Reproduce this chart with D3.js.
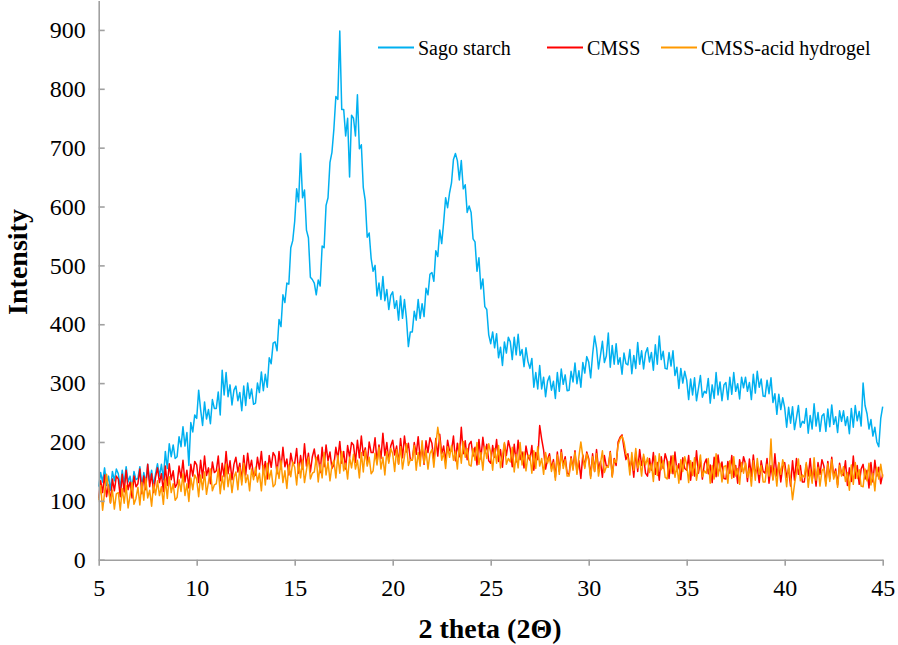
<!DOCTYPE html>
<html>
<head>
<meta charset="utf-8">
<script src="https://cdn.jsdelivr.net/npm/d3@7"></script>
<style>
  html, body { margin: 0; padding: 0; background: #fff; }
  svg { display: block; }
  text { font-family: "Liberation Serif", "Times New Roman", serif; fill: #000; }
</style>
</head>
<body>
<svg id="chart" width="898" height="645"></svg>
<script>
// ---- data (2θ grid 5.0 .. 45.0, step 0.1) ----
const thetaStart = 5.0;
const thetaStep = 0.1;

const sagoStarch = [
  124,148,132,156,126,142,118,150,134,154,
  146,122,152,128,158,132,142,120,150,136,
  138,158,124,148,130,162,134,152,126,146,
  163,142,162,136,184,155,197,175,195,172,
  175,209,192,226,193,216,160,233,217,246,
  240,288,255,228,268,239,255,231,272,257,
  257,285,246,322,280,318,277,297,263,288,
  295,270,284,253,295,262,300,274,290,264,
  266,300,284,319,287,315,293,343,333,368,
  370,355,408,396,450,437,470,468,530,542,
  575,630,608,690,615,628,560,547,480,476,
  470,450,475,465,533,530,602,615,675,692,
  732,787,782,898,765,765,720,750,650,755,
  750,720,790,698,705,632,610,548,555,512,
  490,500,448,470,442,481,440,459,425,449,
  455,427,440,407,448,410,442,410,362,387,
  387,422,407,442,410,435,413,461,450,485,
  488,473,525,515,560,537,573,615,598,623,
  640,680,690,678,645,678,630,637,590,601,
  590,545,540,490,513,460,477,430,425,382,
  367,387,360,384,343,361,330,370,351,378,
  370,340,378,348,383,347,357,328,360,337,
  325,342,293,318,290,330,290,310,277,303,
  312,288,303,274,318,286,324,298,314,287,
  288,320,302,334,299,321,293,335,317,345,
  336,309,349,380,360,324,347,371,335,346,
  385,327,364,332,367,332,343,315,351,333,
  331,357,316,347,325,369,332,355,324,351,
  360,336,352,322,365,332,380,340,354,325,
  324,352,329,355,313,327,291,325,300,320,
  305,272,307,280,309,270,291,313,276,286,
  283,308,266,297,274,318,280,302,270,297,
  301,272,310,281,318,286,299,273,310,292,
  310,286,301,272,315,283,320,293,307,278,
  277,305,282,309,267,282,247,281,255,275,
  258,225,259,232,260,221,241,262,225,235,
  232,257,215,245,222,265,227,250,218,244,
  248,218,256,226,263,230,243,216,253,235,
  253,228,243,214,257,225,262,236,252,227,
  300,262,248,222,238,210,225,200,192,240,
  260
];

const cmss = [
  104,134,114,144,107,127,97,137,117,142,
  137,107,145,115,152,119,132,105,142,124,
  129,154,112,142,119,162,124,146,114,140,
  156,131,146,116,159,126,163,136,151,123,
  129,159,139,169,132,152,122,162,142,167,
  161,131,169,139,176,143,156,129,166,148,
  151,176,134,164,141,184,146,168,136,162,
  174,149,164,134,177,144,181,154,169,141,
  144,174,154,184,147,167,137,177,157,182,
  176,146,184,154,191,158,171,144,181,163,
  164,189,147,177,154,197,159,181,149,175,
  188,163,178,148,191,158,195,168,183,155,
  161,191,171,201,164,184,154,194,174,199,
  195,165,203,173,210,177,190,163,200,182,
  182,207,165,195,172,215,177,199,167,193,
  203,178,193,163,206,173,210,183,198,170,
  169,199,179,209,172,192,162,202,182,207,
  198,168,206,176,213,180,193,166,203,185,
  185,210,168,198,175,225,180,202,170,196,
  201,176,191,161,204,171,208,181,196,168,
  164,194,174,204,167,187,157,197,177,202,
  188,158,196,166,203,170,183,156,193,175,
  169,194,152,182,170,228,205,186,154,170,
  180,155,170,140,183,150,187,160,175,147,
  145,175,155,185,148,168,138,178,158,183,
  172,142,180,150,187,154,167,140,177,159,
  159,184,142,172,160,200,208,212,190,170,
  180,155,170,140,183,150,187,160,175,147,
  142,172,152,182,145,165,135,175,155,180,
  168,138,176,146,183,150,163,136,173,155,
  152,177,135,165,142,185,147,169,137,163,
  171,146,161,131,174,141,178,151,166,138,
  137,167,147,177,140,160,130,170,150,175,
  163,133,171,141,178,145,158,131,168,150,
  147,172,130,160,137,180,142,164,132,158,
  165,140,155,125,168,135,172,145,160,132,
  132,162,142,172,135,155,125,165,145,170,
  159,129,167,137,174,141,154,127,164,146,
  143,168,126,156,133,176,138,160,128,154,
  162,137,152,122,165,132,169,142,157,129,
  145
];

const cmssAcidHydrogel = [
  101,126,84,114,145,120,96,118,86,112,
  114,84,121,96,126,88,109,131,94,104,
  123,93,131,101,138,105,118,91,128,110,
  134,109,124,94,137,104,141,114,129,101,
  106,136,116,146,109,129,99,139,119,144,
  137,107,144,119,149,111,132,154,117,127,
  129,154,112,142,119,162,124,146,114,140,
  149,119,157,127,164,131,144,117,154,136,
  157,132,147,117,160,127,164,137,152,124,
  128,158,138,168,131,151,121,161,141,166,
  157,127,164,139,169,131,152,174,137,147,
  149,174,132,162,139,182,144,166,134,160,
  169,139,177,147,184,151,164,137,174,156,
  179,154,169,139,182,149,186,159,174,146,
  151,181,161,191,154,174,144,184,164,189,
  180,150,187,162,192,154,175,197,160,170,
  169,194,152,182,159,202,164,186,154,180,
  187,157,195,225,202,169,182,155,192,174,
  194,169,184,154,197,164,201,174,189,161,
  159,189,169,199,162,182,152,192,172,197,
  182,152,189,164,194,156,177,199,162,172,
  166,191,149,179,156,199,161,183,151,177,
  177,147,185,155,192,159,172,145,182,164,
  175,150,165,135,178,145,182,155,170,142,
  142,172,152,182,145,175,200,175,155,180,
  168,138,175,150,180,142,163,185,148,158,
  157,182,140,170,165,195,205,210,200,180,
  174,144,182,152,189,156,169,142,179,161,
  173,148,163,133,176,143,180,153,168,140,
  137,167,147,177,140,160,130,170,150,175,
  161,131,168,143,173,135,156,178,141,151,
  147,172,130,160,137,180,142,164,132,158,
  160,130,168,138,175,142,155,128,165,147,
  165,140,155,125,168,135,172,145,160,132,
  132,162,142,205,135,155,125,165,145,170,
  154,124,161,136,102,128,149,171,134,144,
  140,165,123,153,130,173,135,157,125,151,
  155,125,163,133,170,137,150,123,160,142,
  158,133,148,118,161,128,165,138,153,125,
  124,154,134,164,127,147,117,157,137,162,
  140
];

const seriesNames = ["Sago starch", "CMSS", "CMSS-acid hydrogel"];
const seriesColors = ["#00b0f0", "#ff0000", "#ff9900"];
const xTicks = [5, 10, 15, 20, 25, 30, 35, 40, 45];
const yTicks = [0, 100, 200, 300, 400, 500, 600, 700, 800, 900];
const xTitle = "2 theta (2\u0398)";
const yTitle = "Intensity";

// ---- drawing ----
const svg = d3.select("#chart");
const x = d3.scaleLinear().domain([5, 45]).range([98.7, 882.7]);
const y = d3.scaleLinear().domain([0, 950]).range([559.7, 0.5]);

const allSeries = [sagoStarch, cmss, cmssAcidHydrogel].map((vals, k) => ({
  name: seriesNames[k],
  color: seriesColors[k],
  points: vals.map((v, i) => ({ t: thetaStart + i * thetaStep, v }))
}));

const line = d3.line().x(d => x(d.t)).y(d => y(d.v));

svg.append("g").selectAll("path")
  .data(allSeries)
  .join("path")
  .attr("d", d => line(d.points))
  .attr("fill", "none")
  .attr("stroke", d => d.color)
  .attr("stroke-width", 1.5)
  .attr("stroke-linejoin", "round");

// axes
const axisColor = "#a0a0a0";
const xAxis = svg.append("g")
  .attr("transform", `translate(0,${y(0)})`)
  .call(d3.axisBottom(x).tickValues(xTicks).tickSize(6).tickSizeOuter(0).tickPadding(13).tickFormat(d3.format("d")));
const yAxis = svg.append("g")
  .attr("transform", `translate(${x(5)},0)`)
  .call(d3.axisLeft(y).tickValues(yTicks).tickSize(-6).tickSizeOuter(0).tickPadding(13).tickFormat(d3.format("d")));

[xAxis, yAxis].forEach(g => {
  g.attr("font-family", "Liberation Serif, Times New Roman, serif");
  g.select(".domain").attr("stroke", axisColor).attr("stroke-width", 1.6);
  g.selectAll(".tick line").attr("stroke", axisColor).attr("stroke-width", 1.6);
  g.selectAll(".tick text")
    .attr("fill", "#000")
    .style("font-size", "24px");
});

// axis titles
svg.append("text")
  .attr("x", 490).attr("y", 638)
  .attr("text-anchor", "middle")
  .style("font-size", "28px").style("font-weight", "bold")
  .text(xTitle);

svg.append("text")
  .attr("transform", "translate(27,262) rotate(-90)")
  .attr("text-anchor", "middle")
  .style("font-size", "28px").style("font-weight", "bold")
  .text(yTitle);

// legend
const legendPos = [378, 547, 661];
const legend = svg.append("g").selectAll("g")
  .data(allSeries)
  .join("g")
  .attr("transform", (d, i) => `translate(${legendPos[i]},47.5)`);
legend.append("line")
  .attr("x1", 0).attr("x2", 36).attr("y1", 0).attr("y2", 0)
  .attr("stroke", d => d.color).attr("stroke-width", 2);
legend.append("text")
  .attr("x", 40).attr("y", 7)
  .style("font-size", "20px")
  .text(d => d.name);
</script>
</body>
</html>
